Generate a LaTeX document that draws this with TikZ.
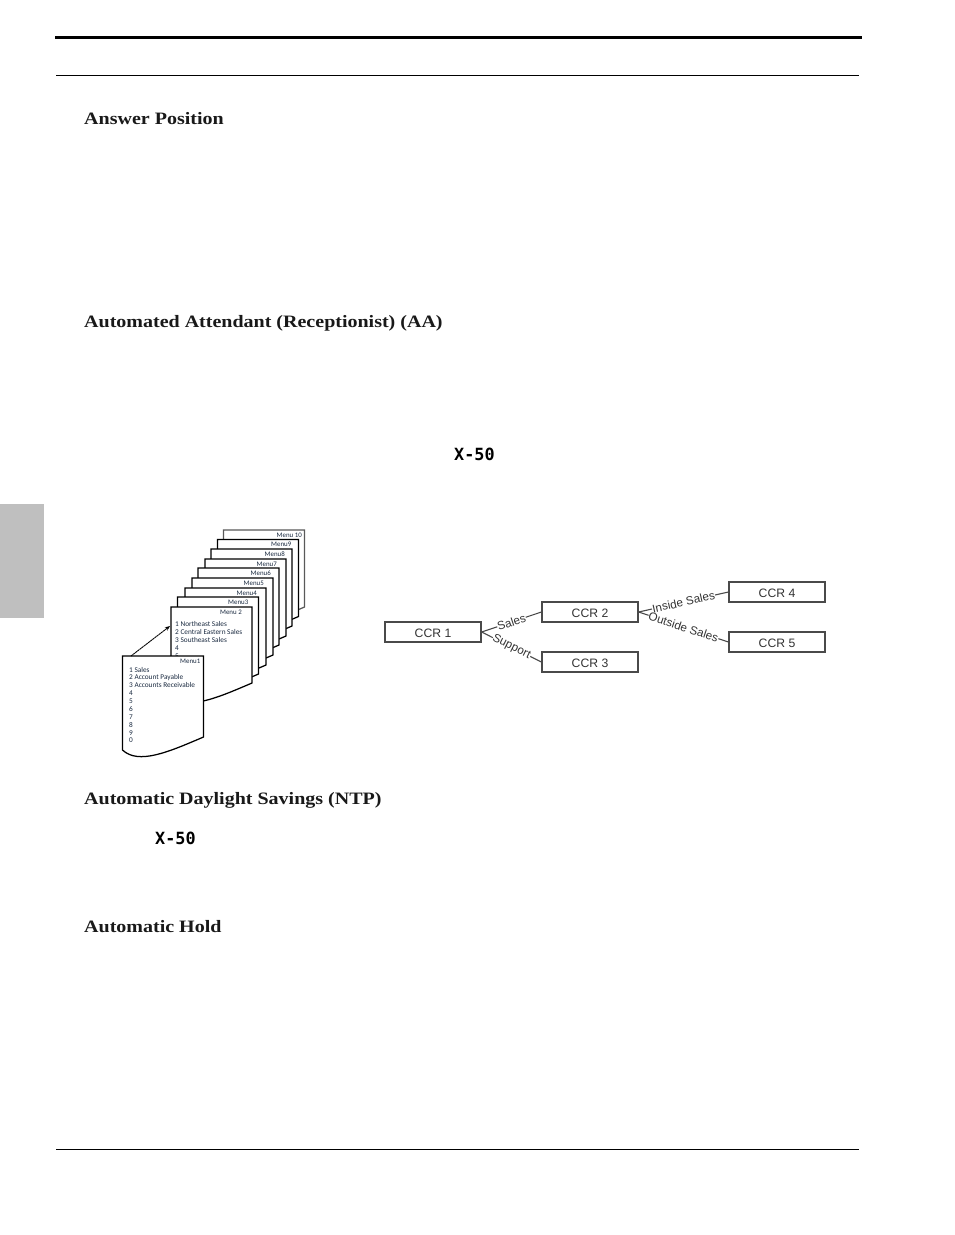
\documentclass[tikz,border=0pt]{standalone}
\usepackage{fontspec}
\setmainfont{Liberation Serif}
\newfontfamily\headfont[FakeStretch=1.15]{Liberation Serif}
\newfontfamily\menufont{Carlito}
\newfontfamily\ccrfont{Liberation Sans}
\newfontfamily\codefont{DejaVu Sans Mono}
\usetikzlibrary{arrows.meta}
\definecolor{tabgray}{HTML}{BFBFBF}
\definecolor{ccrline}{HTML}{4A4A4A}
\definecolor{labelgray}{HTML}{333333}
\definecolor{menutext}{HTML}{1A2A40}
\tikzset{
  x=1pt,y=-1pt,
  heading/.style={anchor=base west,inner sep=0,font=\headfont\bfseries\fontsize{17.4}{19}\selectfont,text=black!90},
  code/.style={anchor=base west,inner sep=0,font=\codefont\bfseries\fontsize{16.8}{18}\selectfont},
  ccrbox/.style={draw=ccrline,line width=1.1pt,fill=white,minimum width=96pt,minimum height=20pt,inner sep=0,text height=12pt,text depth=1.2pt,font=\ccrfont\fontsize{12.2}{13}\selectfont,text=labelgray},
  link/.style={draw=ccrline,line width=1.1pt},
  linklabel/.style={fill=white,inner xsep=0.3pt,inner ysep=0.2pt,font=\ccrfont\fontsize{11.7}{12}\selectfont,text=labelgray,sloped},
  sheet/.style={draw=black,line width=1.25pt,fill=white},
  lastsheet/.style={draw=black!65,line width=1.25pt,fill=white},
  menutitle/.style={anchor=east,inner sep=0,font=\menufont\fontsize{6.9}{7}\selectfont,text=menutext},
  menuline/.style={anchor=west,inner sep=0,font=\menufont\fontsize{7.3}{8}\selectfont,text=menutext},
}
% #1 style, #2 left, #3 top, #4 right-edge height, #5 title, #6 title right end from the left edge
\newcommand{\menusheet}[6]{%
  \path[#1] (#2,#3) -- ++(81,0) -- ++(0,#4)
    .. controls +(-35,15) and +(16,15) .. ++(-81,13) -- cycle;
  \node[menutitle] at ([xshift=#6pt,yshift=-5pt]#2,#3) {#5};
}
\begin{document}
\begin{tikzpicture}
\useasboundingbox (0,0) rectangle (954,1235);
\fill[white] (0,0) rectangle (954,1235);
\fill[tabgray] (0,504) rectangle (44,618);
\coordinate (topL) at (55,37); \coordinate (topR) at (862,37);
\coordinate (secL) at (56,75); \coordinate (secR) at (859,75);
\coordinate (botL) at (56,1149); \coordinate (botR) at (859,1149);
\draw[line width=3pt] (topL) -- (topR);
\draw[line width=1pt] (secL) -- (secR);
\draw[line width=1pt] (botL) -- (botR);
\node[heading] (h1) at (84,124.3) {Answer Position};
\node[heading] (h2) at (84,327.3) {Automated Attendant (Receptionist) (AA)};
\node[heading] (h3) at (84,804.3) {Automatic Daylight Savings (NTP)};
\node[heading] (h4) at (84,932.3) {Automatic Hold};
\node[code] (x1) at (454,460) {X-50};
\node[code] (x2) at (155,844) {X-50};
% menu stack
\menusheet{lastsheet}{223.5}{530}{77}{Menu 10}{78.5}
\menusheet{sheet}{217.5}{539.5}{77}{Menu9}{74}
\menusheet{sheet}{211}{549}{77}{Menu8}{74}
\menusheet{sheet}{205}{559}{77}{Menu7}{72}
\menusheet{sheet}{198}{568}{77}{Menu6}{73}
\menusheet{sheet}{192}{578}{77}{Menu5}{72}
\menusheet{sheet}{185}{588}{77}{Menu4}{72}
\menusheet{sheet}{177.5}{597}{77}{Menu3}{71}
\menusheet{sheet}{171}{607}{76}{Menu 2}{71}
\foreach \t [count=\i from 0] in {1 Northeast Sales,2 Central Eastern Sales,3 Southeast Sales,4,5}
  \node[menuline] (mb\i) at (175,624+8*\i) {\t};
\menusheet{sheet}{122.5}{656}{81}{Menu1}{78}
\foreach \t [count=\i from 0] in {1 Sales,2 Account Payable,3 Accounts Receivable,4,5,6,7,8,9,0}
  \node[menuline] (ma\i) at (129,669.5+7.9*\i) {\t};
\coordinate (arrA) at (131,656);
\coordinate (arrB) at (170,626);
\draw[-{Stealth[length=5pt,width=4pt]},line width=0.9pt,dash pattern=on 2.2pt off 0.5pt] (arrA) -- (arrB);
% CCR tree
\node[ccrbox] (c1) at (433,632) {CCR 1};
\node[ccrbox] (c2) at (590,612) {CCR 2};
\node[ccrbox] (c3) at (590,662) {CCR 3};
\node[ccrbox] (c4) at (777,592) {CCR 4};
\node[ccrbox] (c5) at (777,642) {CCR 5};
\draw[link] (c1.east) -- node[linklabel,pos=.5] {Sales} (c2.west);
\draw[link] (c1.east) -- node[linklabel,pos=.5] {Support} (c3.west);
\draw[link] (c2.east) -- node[linklabel,pos=.5] {Inside Sales} (c4.west);
\draw[link] (c2.east) -- node[linklabel,pos=.5] {Outside Sales} (c5.west);
\end{tikzpicture}
\end{document}
